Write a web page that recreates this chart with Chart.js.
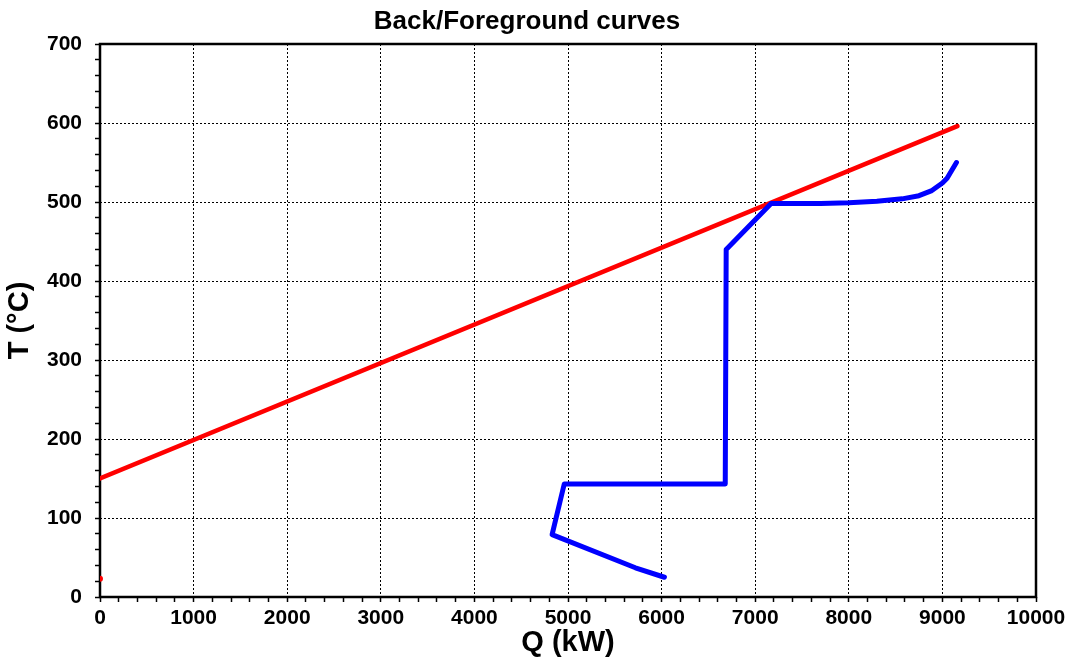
<!DOCTYPE html>
<html>
<head>
<meta charset="utf-8">
<script src="https://cdn.jsdelivr.net/npm/chart.js@4/dist/chart.umd.min.js"></script>
<style>
  html, body { margin: 0; padding: 0; background: #fff; }
  #wrap { width: 1071px; height: 661px; }
</style>
</head>
<body>
<div id="wrap"><canvas id="grafico" width="1071" height="661"></canvas></div>
<script>
// datos
const curvaQ = [6030, 5720, 4830, 4960, 6680, 6690, 7170, 7700, 8000, 8300, 8570, 8750, 8880, 9000, 9050, 9150];
const curvaT = [25, 37, 79, 143, 143, 440, 498, 498, 499, 501, 504, 508, 514, 524, 530, 550];
const rectaQ = [0, 9160];
const rectaT = [150, 596];
const puntoQ = [0];
const puntoT = [23];

const xMax = 10000;
const yMax = 700;

function pares(qs, ts) {
  return qs.map((q, i) => ({ x: q, y: ts[i] }));
}

// marco negro alrededor del area del grafico
const marco = {
  id: 'marco',
  beforeDatasetsDraw(chart) {
    const a = chart.chartArea;
    const ctx = chart.ctx;
    ctx.save();
    ctx.setLineDash([]);
    ctx.strokeStyle = '#000';
    ctx.lineWidth = 2.5;
    ctx.strokeRect(a.left, a.top, a.right - a.left, a.bottom - a.top);
    ctx.restore();
  }
};

const fuente = 'Arial, "Liberation Sans", sans-serif';

new Chart(document.getElementById('grafico'), {
  type: 'scatter',
  data: {
    datasets: [
      {
        data: pares(curvaQ, curvaT),
        showLine: true,
        borderColor: '#0000ff',
        backgroundColor: '#0000ff',
        borderWidth: 5,
        pointRadius: 0,
        borderJoinStyle: 'round',
        borderCapStyle: 'round'
      },
      {
        data: pares(rectaQ, rectaT),
        showLine: true,
        borderColor: '#ff0000',
        backgroundColor: '#ff0000',
        borderWidth: 4.5,
        pointRadius: 0,
        borderCapStyle: 'round'
      },
      {
        data: pares(puntoQ, puntoT),
        showLine: false,
        borderColor: '#ff0000',
        backgroundColor: '#ff0000',
        pointRadius: 3,
        pointBorderWidth: 0
      }
    ]
  },
  options: {
    responsive: false,
    animation: false,
    layout: { padding: { top: 0, right: 35, bottom: 0, left: 18 } },
    plugins: {
      legend: { display: false },
      tooltip: { enabled: false },
      title: {
        display: true,
        text: 'Back/Foreground curves',
        color: '#000',
        font: { family: fuente, size: 26, weight: 'bold' },
        padding: { top: 6.5, bottom: 6.3 }
      }
    },
    scales: {
      x: {
        type: 'linear',
        min: 0,
        max: xMax,
        afterFit(s) { s.height = 64; },
        border: { display: false, dash: [2, 2] },
        grid: {
          color: c => (c.tick && c.tick.value % 1000 === 0) ? '#000' : 'rgba(0,0,0,0)',
          tickColor: '#000',
          tickLength: 5,
          lineWidth: 1,
          tickWidth: 1.5
        },
        ticks: {
          stepSize: 200,
          autoSkip: false,
          maxRotation: 0,
          padding: 4,
          color: '#000',
          font: { family: fuente, size: 21, weight: 'bold' },
          callback: v => (v % 1000 === 0 ? v : '')
        },
        title: {
          display: true,
          text: 'Q (kW)',
          color: '#000',
          font: { family: fuente, size: 29, weight: 'bold' },
          padding: { top: 0, bottom: 1 }
        }
      },
      y: {
        type: 'linear',
        min: 0,
        max: yMax,
        afterFit(s) { s.width = 82; },
        border: { display: false, dash: [2, 2] },
        grid: {
          color: c => (c.tick && c.tick.value % 100 === 0) ? '#000' : 'rgba(0,0,0,0)',
          tickColor: '#000',
          tickLength: 5,
          lineWidth: 1,
          tickWidth: 1.5
        },
        ticks: {
          stepSize: 20,
          autoSkip: false,
          padding: 13,
          color: '#000',
          font: { family: fuente, size: 21, weight: 'bold' },
          callback: v => (v % 100 === 0 ? v : '')
        },
        title: {
          display: true,
          text: 'T (°C)',
          color: '#000',
          font: { family: fuente, size: 29, weight: 'bold' },
          padding: { top: -15, bottom: 0 }
        }
      }
    }
  },
  plugins: [marco]
});
</script>
</body>
</html>
